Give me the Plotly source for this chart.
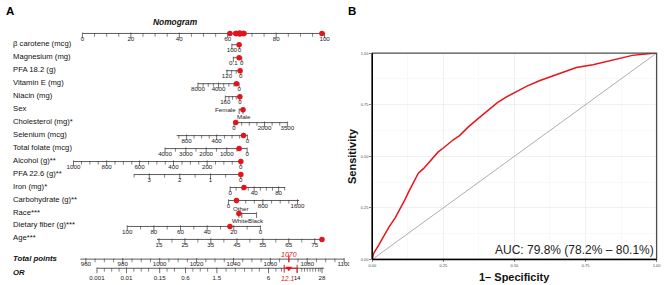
import numpy as np
import plotly.graph_objects as go

# ---------------- Nomogram data ----------------
variables = ["β carotene (mcg)", "Magnesium (mg)", "PFA 18.2 (g)", "Vitamin E (mg)", "Niacin (mg)", "Sex",
             "Cholesterol (mg)*", "Selenium (mcg)", "Total folate (mcg)", "Alcohol (g)**", "PFA 22.6 (g)**",
             "Iron (mg)*", "Carbohydrate (g)**", "Race***", "Dietary fiber (g)***", "Age***"]
tick_labels = [
    ["100", "0"], ["0.1", "0"], ["120", "0"], ["8000", "4000", "0"], ["160", "0"], ["Female", "Male"],
    ["0", "2000", "3500"], ["800", "400", "0"], ["4000", "3000", "2000", "1000", "0"],
    ["1000", "800", "600", "400", "200", "0"], ["3", "2", "1", "0"], ["0", "40", "80"], ["0", "800", "1600"],
    ["White", "Other", "Black"], ["100", "80", "60", "40", "20", "0"],
    ["15", "25", "35", "45", "55", "65", "75"]]
tick_points = [
    [61.7, 64.8], [62.3, 65.8], [59.7, 65.4], [47.7, 56.2, 64.7], [59.0, 65.0], [64.7, 66.3],
    [62.6, 75.2, 84.6], [43.0, 55.4, 68.1], [34.1, 42.7, 51.1, 59.6, 68.0],
    [-3.7, 10.0, 23.6, 37.6, 51.5, 65.4], [27.6, 40.2, 52.9, 65.4], [61.0, 70.9, 81.0], [60.3, 74.5, 88.8],
    [64.6, 65.8, 71.9], [18.5, 29.5, 40.5, 51.5, 62.5, 73.5], [31.6, 42.3, 53.0, 63.8, 74.5, 85.2, 95.9]]
line_points = [
    [61.7, 64.8], [62.3, 65.8], [59.3, 65.4], [47.7, 64.7], [59.0, 65.0], [64.7, 66.3],
    [62.6, 84.6], [38.9, 68.1], [34.1, 68.0], [-3.7, 65.4], [21.3, 65.4], [61.0, 83.7], [60.3, 89.5],
    [64.6, 71.9], [18.5, 73.5], [30.8, 98.9]]
minor_step = [None, None, 40, 1000, 40, None, 500, 100, 500, 50, 0.5, 10, 200, None, 10, 5]
patient_points = [64.7, 64.7, 65.1, 63.6, 65.0, 66.3, 63.3, 66.5, 64.7, 65.4, 65.4, 66.7, 63.6, 64.6, 60.9, 98.9]

points_ticks = [0, 20, 40, 60, 80, 100]
total_ticks = [960, 980, 1000, 1020, 1040, 1060, 1080, 1100]
total_value = 1070
or_labels = ["0.001", "0.01", "0.15", "0.6", "1.5", "6", "14", "28"]
or_at_total = [966, 982, 1000, 1014, 1031, 1059, 1074.5, 1088]
or_minor_at_total = [970, 974, 978, 986, 990, 994, 1004, 1008, 1018, 1022, 1026, 1036, 1041, 1046, 1050,
                     1054, 1063, 1066, 1077, 1078.5, 1080, 1081.5, 1083, 1084.5, 1086, 1087]
or_estimate = "12.1"
or_ci_at_total = [1067.5, 1074.5]

# ---------------- ROC data ----------------
fpr = [0, 0.005, 0.023, 0.04, 0.058, 0.08, 0.099, 0.115, 0.127, 0.15, 0.162, 0.18, 0.197, 0.215, 0.231,
       0.25, 0.266, 0.285, 0.307, 0.336, 0.37, 0.405, 0.44, 0.475, 0.51, 0.544, 0.59, 0.637, 0.672, 0.718,
       0.776, 0.822, 0.868, 0.915, 0.96, 1.0]
tpr = [0, 0.03, 0.07, 0.115, 0.155, 0.2, 0.245, 0.29, 0.325, 0.39, 0.418, 0.44, 0.465, 0.495, 0.52,
       0.54, 0.56, 0.58, 0.60, 0.64, 0.68, 0.72, 0.76, 0.79, 0.815, 0.84, 0.867, 0.89, 0.91, 0.93,
       0.944, 0.96, 0.976, 0.989, 0.996, 1.0]
auc_text = "AUC: 79.8% (78.2% – 80.1%)"

# ---------------- layout constants ----------------
FONT = "Liberation Sans, Arial, sans-serif"
W, H = 669, 285
PX0, PPP = 79.5, 2.455          # pixel of 0 points, pixels per point
NOMO_RIGHT = 350
ROW_Y0, ROW_DY = 42.5, 13.21
POINTS_Y, TOTAL_Y, OR_Y = 31, 260.7, 270.0
TP_PX0, TP_PPU = 83.0, 1.87    # total-points axis: pixel of 960, pixels per unit
AXC = "#333333"
RED = "#E3141B"


def tp_to_x(tp):
    return (TP_PX0 + (np.asarray(tp, dtype=float) - total_ticks[0]) * TP_PPU - PX0) / PPP


fig = go.Figure()
line_x, line_y = [], []
tick_x, tick_y = [], []
mtick_x, mtick_y = [], []
txt_x, txt_y, txt_s = [], [], []


def seg(a, b, y):
    line_x.extend([a, b, None])
    line_y.extend([y, y, None])


# Points axis
seg(0, 100, POINTS_Y)
for p in np.arange(0, 101, 5):
    (tick_x if p % 20 == 0 else mtick_x).append(p)
    (tick_y if p % 20 == 0 else mtick_y).append(POINTS_Y + (2 if p % 20 == 0 else 1.5))
for p in points_ticks:
    txt_x.append(p); txt_y.append(POINTS_Y + 6.5); txt_s.append(str(p))

# Variable rows
for i, name in enumerate(variables):
    y = ROW_Y0 + ROW_DY * i
    seg(line_points[i][0], line_points[i][1], y)
    for p in tick_points[i]:
        tick_x.append(p); tick_y.append(y + 1.7)
    if minor_step[i] is not None:
        vals = [float(t) for t in tick_labels[i]]
        slope, icpt = np.polyfit(vals, tick_points[i], 1)
        lo_v = (min(line_points[i]) - icpt) / slope
        hi_v = (max(line_points[i]) - icpt) / slope
        lo_v, hi_v = min(lo_v, hi_v), max(lo_v, hi_v)
        st = minor_step[i]
        v = np.ceil(lo_v / st - 1e-6) * st
        while v <= hi_v + 1e-6:
            if not any(abs(v - t) < 1e-6 for t in vals):
                mtick_x.append(slope * v + icpt); mtick_y.append(y + 1.3)
            v += st
    if name not in ("Sex", "Race***"):
        for p, s in zip(tick_points[i], tick_labels[i]):
            txt_x.append(p); txt_y.append(y + 5.8); txt_s.append(s)

# Total points axis
seg(tp_to_x(min(total_ticks) - 3), tp_to_x(max(total_ticks)), TOTAL_Y)
for t in range(total_ticks[0], total_ticks[-1] + 1, 5):
    if t in total_ticks:
        tick_x.append(float(tp_to_x(t))); tick_y.append(TOTAL_Y + 1.7)
    else:
        mtick_x.append(float(tp_to_x(t))); mtick_y.append(TOTAL_Y + 1.3)
for t in total_ticks:
    txt_x.append(float(tp_to_x(t))); txt_y.append(TOTAL_Y + 5.3); txt_s.append(str(t))

# OR axis
seg(float(tp_to_x(or_at_total[0])), float(tp_to_x(1089)), OR_Y)
for t, s in zip(or_at_total, or_labels):
    tick_x.append(float(tp_to_x(t))); tick_y.append(OR_Y + 2.2)
    txt_x.append(float(tp_to_x(t))); txt_y.append(OR_Y + 10.3); txt_s.append(s)
for t in or_minor_at_total:
    mtick_x.append(float(tp_to_x(t))); mtick_y.append(OR_Y + 1.6)

fig.add_trace(go.Scatter(x=line_x, y=line_y, mode="lines", line=dict(color=AXC, width=0.8),
                         hoverinfo="skip", showlegend=False))
fig.add_trace(go.Scatter(x=tick_x, y=tick_y, mode="markers", hoverinfo="skip", showlegend=False,
                         marker=dict(symbol="line-ns", size=4, line=dict(color=AXC, width=0.7))))
fig.add_trace(go.Scatter(x=mtick_x, y=mtick_y, mode="markers", hoverinfo="skip", showlegend=False,
                         marker=dict(symbol="line-ns", size=2.6, line=dict(color=AXC, width=0.6))))
fig.add_trace(go.Scatter(x=txt_x, y=txt_y, mode="text", text=txt_s, hoverinfo="skip", showlegend=False,
                         textfont=dict(family=FONT, size=6.2, color="#1a1a1a")))

# Categorical labels
ann = []
i_sex = variables.index("Sex")
y_sex = ROW_Y0 + ROW_DY * i_sex
ann.append(dict(x=tick_points[i_sex][0] - 0.3, y=y_sex, text=tick_labels[i_sex][0], xanchor="right",
                yanchor="middle"))
ann.append(dict(x=tick_points[i_sex][1] + 0.5, y=y_sex + 6.8, text=tick_labels[i_sex][1], xanchor="center",
                yanchor="middle"))
i_race = variables.index("Race***")
y_race = ROW_Y0 + ROW_DY * i_race
ann.append(dict(x=tick_points[i_race][0] + 0.3, y=y_race + 6.8, text=tick_labels[i_race][0],
                xanchor="center", yanchor="middle"))
ann.append(dict(x=tick_points[i_race][1] - 0.5, y=y_race - 4.8, text=tick_labels[i_race][1],
                xanchor="center", yanchor="middle"))
ann.append(dict(x=tick_points[i_race][2] - 0.1, y=y_race + 6.8, text=tick_labels[i_race][2],
                xanchor="center", yanchor="middle"))
for a in ann:
    a.update(xref="x", yref="y", showarrow=False, font=dict(family=FONT, size=6.2, color="#1a1a1a"))

# Row labels
for i, name in enumerate(variables):
    ann.append(dict(x=7 / W, y=ROW_Y0 + ROW_DY * i - 1.5, xref="paper", yref="y", text=name, showarrow=False,
                    xanchor="left", yanchor="middle", font=dict(family=FONT, size=7.7, color="#111")))
for lab, yy in [("Total points", TOTAL_Y - 1.0), ("OR", OR_Y + 4.5)]:
    ann.append(dict(x=7 / W, y=yy, xref="paper", yref="y", text="<b><i>%s</i></b>" % lab, showarrow=False,
                    xanchor="left", yanchor="middle", font=dict(family=FONT, size=7.8, color="#111")))
ann.append(dict(x=38.3, y=19, xref="x", yref="y", text="<b><i>Nomogram</i></b>", showarrow=False,
                xanchor="center", yanchor="middle", font=dict(family=FONT, size=8.4, color="#111")))

# Patient markers
dot_y = [ROW_Y0 + ROW_DY * i for i in range(len(variables))]
fig.add_trace(go.Scatter(x=patient_points, y=dot_y, mode="markers", hoverinfo="skip", showlegend=False,
                         marker=dict(color=RED, size=5.5)))
fig.add_trace(go.Scatter(x=patient_points, y=[POINTS_Y] * len(patient_points), mode="markers",
                         hoverinfo="skip", showlegend=False, marker=dict(color=RED, size=5.5)))
xt = float(tp_to_x(total_value))
fig.add_trace(go.Scatter(x=[xt], y=[TOTAL_Y - 0.5], mode="markers", hoverinfo="skip", showlegend=False,
                         marker=dict(symbol="line-ns", size=5, line=dict(color=RED, width=1.2))))
ann.append(dict(x=xt, y=TOTAL_Y - 5.2, xref="x", yref="y", text="<i>%d</i>" % total_value, showarrow=False,
                xanchor="center", yanchor="middle", font=dict(family=FONT, size=7, color=RED)))
ci_x = [float(v) for v in tp_to_x(or_ci_at_total)]
fig.add_trace(go.Scatter(x=[ci_x[0], ci_x[1], None, ci_x[0], ci_x[0], None, ci_x[1], ci_x[1]],
                         y=[OR_Y, OR_Y, None, OR_Y - 3.5, OR_Y + 4.5, None, OR_Y - 3.5, OR_Y + 4.5],
                         mode="lines", line=dict(color=RED, width=1.0), hoverinfo="skip", showlegend=False))
fig.add_trace(go.Scatter(x=[xt], y=[OR_Y], mode="markers", hoverinfo="skip", showlegend=False,
                         marker=dict(symbol="triangle-down", color=RED, size=6)))
ann.append(dict(x=xt - 0.6, y=OR_Y + 10.3, xref="x", yref="y", text="<i>%s</i>" % or_estimate, showarrow=False,
                xanchor="center", yanchor="middle", font=dict(family=FONT, size=6.8, color=RED)))

# ---------------- ROC panel ----------------
fig.add_trace(go.Scatter(x=[0, 1], y=[0, 1], mode="lines", line=dict(color="#8a8a8a", width=0.7),
                         xaxis="x2", yaxis="y2", hoverinfo="skip", showlegend=False))
fig.add_trace(go.Scatter(x=fpr, y=tpr, mode="lines", line=dict(color="#E8141B", width=1.5),
                         xaxis="x2", yaxis="y2", hoverinfo="skip", showlegend=False))

RX0, RX1, RY0, RY1 = 373.3, 661.5, 51.0, 261.0
roc_ticks = [0, 0.25, 0.5, 0.75, 1.0]
roc_text = ["0.00", "0.25", "0.50", "0.75", "1.00"]
axis_common = dict(range=[0, 1], tickvals=roc_ticks, ticktext=roc_text, ticks="outside", ticklen=2,
                   tickwidth=0.6, tickcolor="#333", tickfont=dict(family=FONT, size=4, color="#4d4d4d"),
                   showgrid=True, gridcolor="#E6E6E6", gridwidth=0.6, zeroline=False, showline=False,
                   minor=dict(tickvals=[0.125, 0.375, 0.625, 0.875], showgrid=True, gridcolor="#F3F3F3",
                              gridwidth=0.5), fixedrange=True)

ann.append(dict(x=(RX0 + RX1) / 2 / W, y=(H - 279) / H, xref="paper", yref="paper",
                text="<b>1– Specificity</b>", showarrow=False, xanchor="center", yanchor="middle",
                font=dict(family=FONT, size=11, color="#111")))
ann.append(dict(x=353.5 / W, y=(H - 156) / H, xref="paper", yref="paper", text="<b>Sensitivity</b>",
                showarrow=False, textangle=-90, xanchor="center", yanchor="middle",
                font=dict(family=FONT, size=11, color="#111")))
ann.append(dict(x=0.997, y=0.048, xref="x2", yref="y2", text=auc_text, showarrow=False, xanchor="right",
                yanchor="middle", font=dict(family=FONT, size=12, color="#222")))
ann.append(dict(x=0, y=1, xref="paper", yref="paper", text="<b>A</b>", showarrow=False, xanchor="left",
                yanchor="top", font=dict(family=FONT, size=11.5, color="#000")))
ann.append(dict(x=347 / W, y=1, xref="paper", yref="paper", text="<b>B</b>", showarrow=False, xanchor="left",
                yanchor="top", font=dict(family=FONT, size=11.5, color="#000")))

shapes = [
    dict(type="rect", xref="x2 domain", yref="y2 domain", x0=0, x1=1, y0=0, y1=1,
         line=dict(color="#4d4d4d", width=1.3), layer="above"),
    dict(type="line", xref="x2 domain", yref="y2 domain", x0=0, x1=0, y0=0, y1=1,
         line=dict(color="#000", width=1.5), layer="above"),
    dict(type="line", xref="x2 domain", yref="y2 domain", x0=0, x1=1, y0=0, y1=0,
         line=dict(color="#000", width=1.5), layer="above"),
]

fig.update_layout(
    width=W, height=H, margin=dict(l=0, r=0, t=0, b=0), paper_bgcolor="white", plot_bgcolor="white",
    showlegend=False, font=dict(family=FONT),
    xaxis=dict(domain=[0, NOMO_RIGHT / W], range=[(0 - PX0) / PPP, (NOMO_RIGHT - PX0) / PPP], visible=False,
               fixedrange=True),
    yaxis=dict(domain=[0, 1], range=[H, 0], visible=False, fixedrange=True),
    xaxis2=dict(domain=[RX0 / W, RX1 / W], anchor="y2", **axis_common),
    yaxis2=dict(domain=[(H - RY1) / H, (H - RY0) / H], anchor="x2", **axis_common),
    annotations=ann, shapes=shapes,
)

fig.write_html("out.html", config={"displayModeBar": False, "staticPlot": True},
               post_script="document.body.style.margin='0';document.body.style.padding='0';")
